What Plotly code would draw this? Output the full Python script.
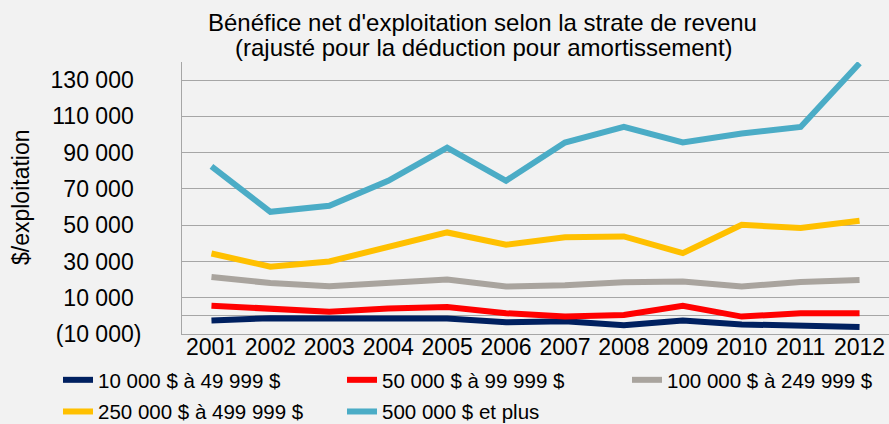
import plotly.graph_objects as go

years = ["2001", "2002", "2003", "2004", "2005", "2006", "2007", "2008", "2009", "2010", "2011", "2012"]

s_10k = [-2500, -1300, -1400, -1700, -1500, -3500, -3000, -5200, -2600, -4700, -5200, -6200]
s_50k = [5600, 4300, 2300, 4100, 4900, 1500, -400, 500, 5500, -400, 1400, 1400]
s_100k = [21400, 18100, 16300, 18500, 20000, 16200, 16900, 18500, 18900, 16200, 18700, 19800]
s_250k = [34400, 27100, 30000, 38300, 46000, 39200, 43300, 43800, 34600, 50200, 48400, 52400]
s_500k = [82400, 57400, 60700, 74500, 92800, 74500, 95600, 104200, 95600, 100600, 104200, 139300]

series_names = [
    "10 000 $ à 49 999 $",
    "50 000 $ à 99 999 $",
    "100 000 $ à 249 999 $",
    "250 000 $ à 499 999 $",
    "500 000 $ et plus",
]
series_values = [s_10k, s_50k, s_100k, s_250k, s_500k]
series_colors = ["#002060", "#FF0000", "#A9A49E", "#FFC000", "#4BACC6"]
series_legends = ["legend", "legend2", "legend3", "legend", "legend2"]

y_tickvals = [-10000, 10000, 30000, 50000, 70000, 90000, 110000, 130000]

title_line1 = "Bénéfice net d'exploitation selon la strate de revenu"
title_line2 = "(rajusté pour la déduction pour amortissement)"
y_title = "$/exploitation"


def fmt(v):
    s = f"{abs(v):,}".replace(",", " ")
    if v < 0:
        return f"({s})"
    return s + "<span style='color:rgba(0,0,0,0)'>)</span>"


y_ticktext = [fmt(v) for v in y_tickvals]

FONT = "Liberation Sans, Arial, sans-serif"
GRID = "#A6A6A6"
BG = "#F2F2F2"

fig = go.Figure()
for i, (name, vals, col, lg) in enumerate(zip(series_names, series_values, series_colors, series_legends)):
    fig.add_trace(go.Scatter(
        x=years, y=vals, name=name, mode="lines",
        line=dict(color=col, width=6),
        legend=lg, legendgroup=f"g{i}",
    ))

W, H = 889, 424
L, R, T, B = 182, 0, 62, 90
pw, ph = W - L - R, H - T - B


def px_x(x):
    return (x - L) / pw


def px_y(y):
    return (H - B - y) / ph


def legend_at(xpx):
    return dict(
        orientation="v",
        xref="container", yref="container",
        x=xpx / W, xanchor="left",
        y=1 - 360 / H, yanchor="top",
        font=dict(size=20.5, family=FONT, color="#000000"),
        bgcolor="rgba(0,0,0,0)",
        tracegroupgap=2,
        traceorder="grouped",
        itemwidth=30,
    )


fig.update_layout(
    width=W, height=H,
    margin=dict(l=L, r=R, t=T, b=B, autoexpand=False),
    paper_bgcolor=BG, plot_bgcolor=BG,
    font=dict(family=FONT, color="#000000", size=23),
    showlegend=True,
    legend=legend_at(58),
    legend2=legend_at(342),
    legend3=legend_at(627),
    xaxis=dict(
        type="category",
        range=[-0.5, 11.5],
        showgrid=False,
        showline=True, linecolor=GRID, linewidth=1,
        ticks="",
        ticklabelstandoff=-8,
        tickfont=dict(size=23),
        automargin=False,
        fixedrange=True,
    ),
    yaxis=dict(
        range=[-10000, 140000],
        tickvals=y_tickvals, ticktext=y_ticktext,
        showgrid=True, gridcolor=GRID, gridwidth=1,
        zeroline=True, zerolinecolor=GRID, zerolinewidth=1,
        showline=True, linecolor=GRID, linewidth=1,
        ticks="",
        ticklabelstandoff=35,
        tickfont=dict(size=23),
        automargin=False,
        fixedrange=True,
    ),
    annotations=[
        dict(text=title_line1, xref="paper", yref="paper",
             x=px_x(482), y=px_y(22), xanchor="center", yanchor="middle",
             showarrow=False, font=dict(size=24, family=FONT)),
        dict(text=title_line2, xref="paper", yref="paper",
             x=px_x(484), y=px_y(48), xanchor="center", yanchor="middle",
             showarrow=False, font=dict(size=24, family=FONT)),
        dict(text=y_title, xref="paper", yref="paper",
             x=px_x(21), y=px_y(197), xanchor="center", yanchor="middle",
             textangle=-90, showarrow=False, font=dict(size=23, family=FONT)),
    ],
)

fig.write_html(
    "out.html",
    config={"displayModeBar": False},
    post_script="document.body.style.margin='0px';document.body.style.background='#F2F2F2';",
)
